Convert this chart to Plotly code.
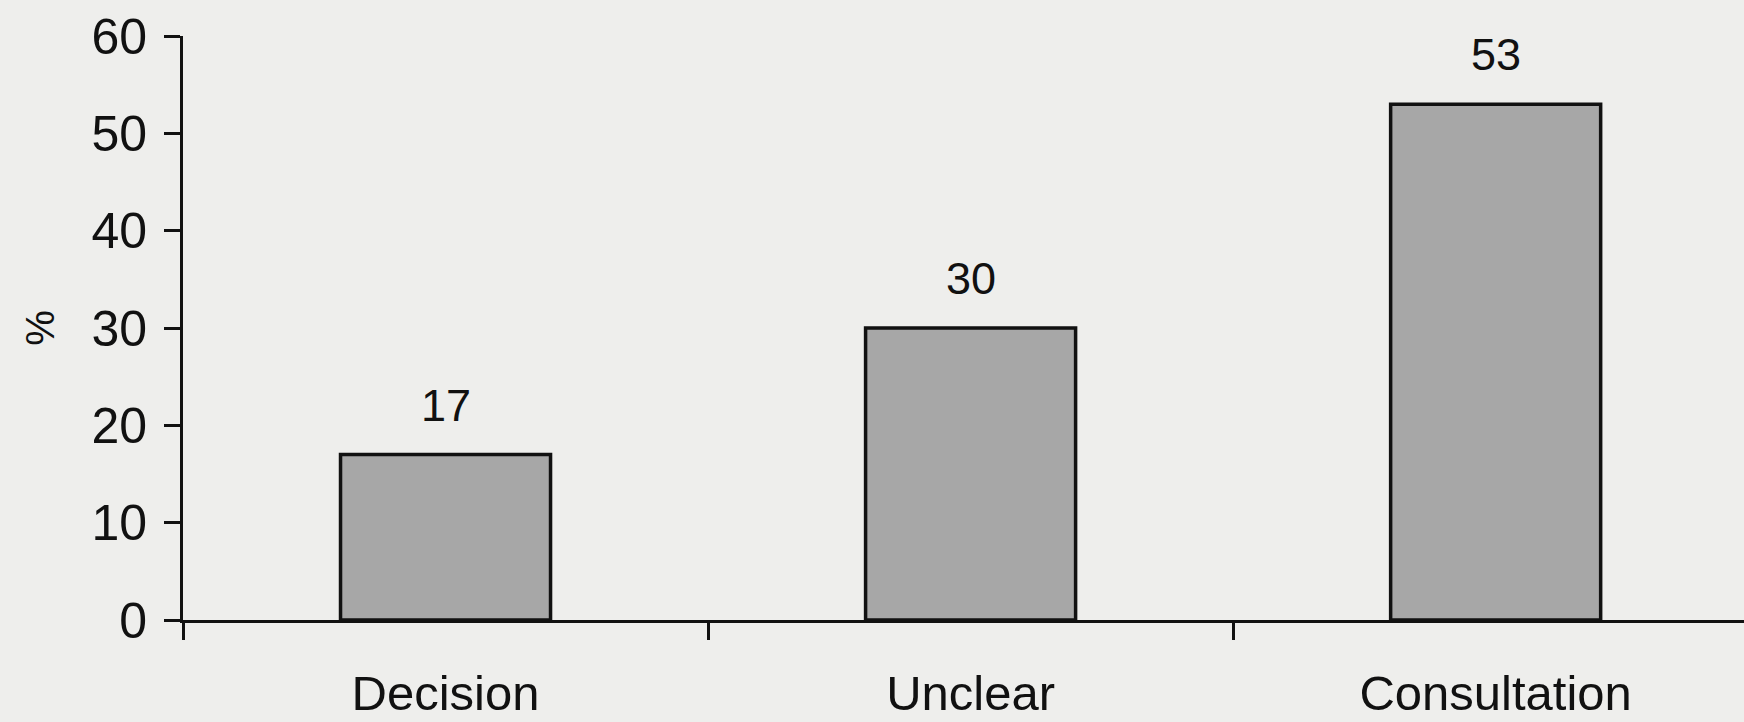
import plotly.graph_objects as go

categories = ["Decision", "Unclear", "Consultation"]
values = [17, 30, 53]
y_ticks = [0, 10, 20, 30, 40, 50, 60]

FONT = "Liberation Sans, Arial, sans-serif"
BG = "#eeeeec"

fig = go.Figure()
fig.add_trace(go.Bar(
    x=categories, y=values, width=0.40,
    marker=dict(color="#a7a7a7", line=dict(color="#111111", width=3.5)),
    hoverinfo="skip",
))

for c, v in zip(categories, values):
    fig.add_annotation(x=c, y=v, text=str(v), showarrow=False,
                       yanchor="bottom", yshift=22,
                       font=dict(family=FONT, size=45, color="#111111"))

fig.update_layout(
    width=1744, height=722,
    margin=dict(l=183, r=0, t=36, b=102, autoexpand=False),
    paper_bgcolor=BG, plot_bgcolor=BG,
    showlegend=False,
    font=dict(family=FONT, color="#111111"),
)
fig.update_xaxes(
    range=[-0.5, 2.473], showgrid=False, zeroline=False, automargin=False,
    showline=True, linecolor="#111111", linewidth=3,
    ticks="outside", tickson="boundaries", ticklen=17, tickwidth=3, tickcolor="#111111",
    tickfont=dict(size=49, family=FONT, color="#111111"),
    ticklabelstandoff=28,
)
fig.update_yaxes(
    range=[0, 60], tickvals=y_ticks, showgrid=False, zeroline=False, automargin=False,
    showline=True, linecolor="#111111", linewidth=3,
    ticks="outside", ticklen=16, tickwidth=3, tickcolor="#111111",
    tickfont=dict(size=50, family=FONT, color="#111111"),
    ticklabelstandoff=7,
    title=dict(text="%", font=dict(size=40, family=FONT, color="#111111"), standoff=25),
)

fig.write_html(
    "out.html",
    config={"displayModeBar": False},
    post_script="document.body.style.margin='0';document.body.style.overflow='hidden';",
)
